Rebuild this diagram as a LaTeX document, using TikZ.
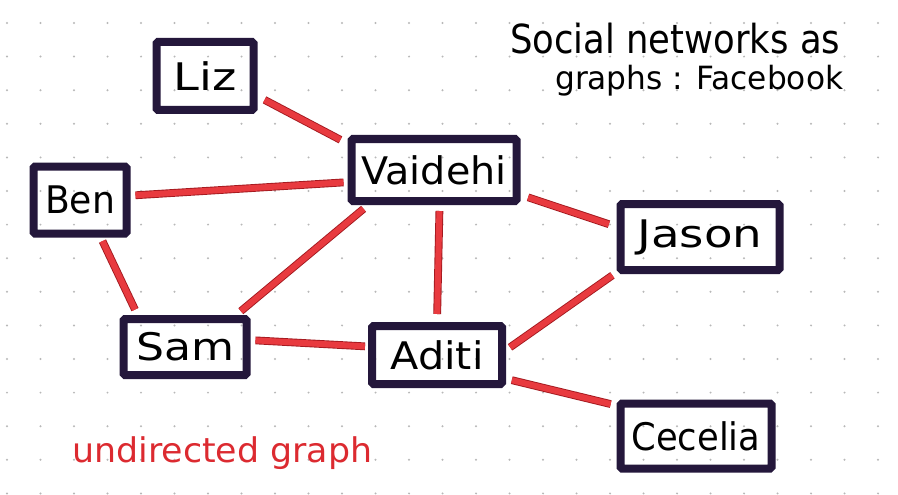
\documentclass[tikz,border=0pt]{standalone}
\usepackage{fontspec}
\setmainfont{DejaVu Sans}
\usetikzlibrary{calc}
\definecolor{boxcol}{HTML}{24173B}
\definecolor{edgered}{HTML}{E83A3F}
\definecolor{edgedark}{HTML}{A3191F}
\definecolor{labelred}{HTML}{DC2A30}
\definecolor{dotgray}{HTML}{B8B8B8}
\newcommand{\wfit}[2]{\resizebox{#1}{\height}{#2}}
\begin{document}
\begin{tikzpicture}[x=1pt,y=-1pt,
  person/.style={draw=boxcol, line width=8pt, rounded corners=1.5pt, inner sep=0pt,
                 font=\fontsize{38}{42}\selectfont},
  link/.style={draw=edgedark, line width=0.9pt, double=edgered, double distance=6pt},
  title/.style={anchor=base west, inner sep=0pt}]
\fill[white] (0,0) rectangle (898,495);
\useasboundingbox (0,0) rectangle (898,495);
\foreach \i in {0,...,26}
  \foreach \j in {0,...,14}
    \fill[dotgray] (7+33.5*\i, 23+33.6*\j) circle (1.1pt);

% people
\node[person, minimum width=97pt,  minimum height=68pt] (Liz)     at (205,76)  {\wfit{63pt}{Liz}};
\node[person, minimum width=165pt, minimum height=62pt] (Vaidehi) at (434,170) {\wfit{145pt}{Vaidehi}};
\node[person, minimum width=93pt,  minimum height=67pt] (Ben)     at (80,200)  {\wfit{70pt}{Ben}};
\node[person, minimum width=159pt, minimum height=66pt] (Jason)   at (700,237) {\wfit{125pt}{Jason}};
\node[person, minimum width=123pt, minimum height=56pt] (Sam)     at (185,347) {\wfit{98pt}{Sam}};
\node[person, minimum width=130pt, minimum height=58pt] (Aditi)   at (437,355) {\wfit{93pt}{Aditi}};
\node[person, minimum width=151pt, minimum height=65pt] (Cecelia) at (696,436) {\wfit{129pt}{Cecelia}};

% friendships
\draw[link, shorten <=8pt, shorten >=8pt] (Liz.-21)     -- (Vaidehi.163.6);
\draw[link, shorten <=5pt, shorten >=4pt] (Ben.5.5)     -- (Vaidehi.188.6);
\draw[link, shorten <=6pt, shorten >=6pt] (Vaidehi.208) -- (Sam.32.5);
\draw[link, shorten <=6pt, shorten >=8pt] (Vaidehi.-81) -- (Aditi.90);
\draw[link, shorten <=8pt, shorten >=8pt] (Vaidehi.-16.2) -- (Jason.173.5);
\draw[link, shorten <=4pt, shorten >=6pt] (Ben.-61)     -- (Sam.146);
\draw[link, shorten <=5pt, shorten >=3pt] (Sam.6)       -- (Aditi.173.4);
\draw[link, shorten <=5pt, shorten >=5pt] (Aditi.4)     -- (Jason.203);
\draw[link, shorten <=6pt, shorten >=6pt] (Aditi.-19.4) -- (Cecelia.159.7);

% titles
\node[title, font=\fontsize{40}{44}\selectfont] (t1) at (510,54) {\wfit{330pt}{Social networks as}};
\node[title, font=\fontsize{32}{36}\selectfont] (t2) at (555,90) {\wfit{288pt}{graphs : Facebook}};
\node[anchor=base west, inner sep=0pt, text=labelred, font=\fontsize{34}{38}\selectfont]
  (lab) at (72,462) {\wfit{300pt}{undirected graph}};
\end{tikzpicture}
\end{document}
